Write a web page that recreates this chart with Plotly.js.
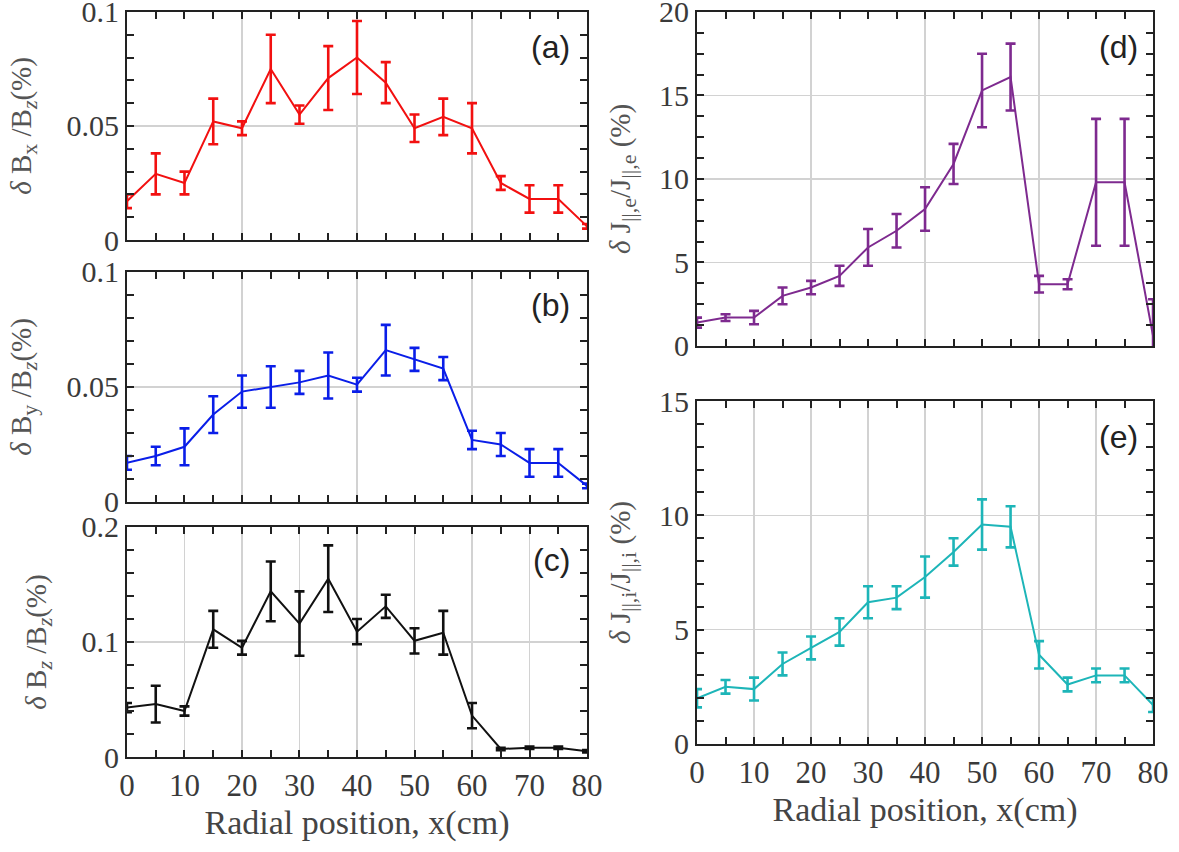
<!DOCTYPE html>
<html>
<head>
<meta charset="utf-8">
<script src="https://cdn.plot.ly/plotly-3.0.1.min.js"></script>
<style>html,body{margin:0;padding:0;background:#fff;}#chart{width:1179px;height:852px;}</style>
</head>
<body>
<div id="chart"></div>
<script>
// Radial positions (cm)
const xPos = [0,5,10,15,20,25,30,35,40,45,50,55,60,65,70,75,80];

// (a) dBx/Bz (%)
const bxVals = [0.017,0.029,0.025,0.052,0.049,0.075,0.055,0.071,0.080,0.069,0.049,0.054,0.049,0.025,0.018,0.018,0.006];
const bxErr  = [0.003,0.009,0.005,0.010,0.003,0.015,0.004,0.014,0.016,0.009,0.006,0.008,0.011,0.003,0.006,0.006,0.001];

// (b) dBy/Bz (%)
const byVals = [0.017,0.020,0.024,0.038,0.048,0.050,0.052,0.055,0.051,0.066,0.062,0.058,0.027,0.025,0.017,0.017,0.007];
const byErr  = [0.003,0.004,0.008,0.008,0.007,0.009,0.005,0.010,0.003,0.011,0.005,0.005,0.004,0.005,0.006,0.006,0.001];

// (c) dBz/Bz (%)
const bzVals = [0.043,0.046,0.040,0.111,0.095,0.144,0.116,0.155,0.109,0.131,0.101,0.108,0.036,0.007,0.008,0.008,0.005];
const bzErr  = [0.004,0.016,0.004,0.016,0.006,0.026,0.028,0.029,0.011,0.010,0.011,0.019,0.011,0.001,0.001,0.001,0.001];

// (d) dJ||,e/J||,e (%)
const jeVals = [1.4,1.7,1.7,3.0,3.5,4.2,5.9,6.9,8.2,10.9,15.3,16.1,3.7,3.7,9.8,9.8,0.6];
const jeErr  = [0.3,0.2,0.4,0.5,0.4,0.6,1.1,1.0,1.3,1.2,2.2,2.0,0.5,0.3,3.8,3.8,2.2];

// (e) dJ||,i/J||,i (%)
const jiVals = [2.0,2.5,2.4,3.5,4.2,4.9,6.2,6.4,7.3,8.4,9.6,9.5,3.9,2.6,3.0,3.0,1.7];
const jiErr  = [0.4,0.3,0.5,0.5,0.5,0.6,0.7,0.5,0.9,0.6,1.1,0.9,0.6,0.3,0.3,0.3,0.3];

const panelLabels = ['(a)','(b)','(c)','(d)','(e)'];
const sb = t => '<sub><span style="font-size:22px">' + t + '</span></sub>';
const yTitles = [
  '<i>δ</i> B' + sb('x') + ' /B' + sb('<i>z</i>') + '(%)',
  '<i>δ</i> B' + sb('y') + ' /B' + sb('<i>z</i>') + '(%)',
  '<i>δ</i> B' + sb('<i>z</i>') + ' /B' + sb('<i>z</i>') + '(%)',
  '<i>δ</i> J' + sb('||,e') + '/J' + sb('||,e') + ' (%)',
  '<i>δ</i> J' + sb('||,i') + '/J' + sb('||,i') + ' (%)'
];
const xTitle = 'Radial position, x(cm)';

const colors = ['#f21010','#0a1ee8','#111111','#7e2a8f','#1db5b8'];
const series = [[bxVals,bxErr],[byVals,byErr],[bzVals,bzErr],[jeVals,jeErr],[jiVals,jiErr]];

const serif = 'Liberation Serif, Times New Roman, serif';
const axCol = '#222';
const gridCol = '#d2d2d2';

const traces = series.map((s,i)=>({
  type:'scatter', mode:'lines',
  x:xPos, y:s[0],
  xaxis: i===0?'x':'x'+(i+1), yaxis: i===0?'y':'y'+(i+1),
  line:{color:colors[i], width:2},
  error_y:{type:'data', array:s[1], visible:true, color:colors[i], thickness:2.6, width:5},
  showlegend:false, hoverinfo:'x+y'
}));

const leftX = [0.1077,0.4979], rightX = [0.5912,0.978];
const yDomains = [[0.7183,0.986],[0.4108,0.6808],[0.1115,0.3815],[0.5939,0.986],[0.1268,0.5293]];
const yRanges = [[0,0.1],[0,0.1],[0,0.2],[0,20],[0,15]];
const yDticks = [0.05,0.05,0.1,5,5];
const yMinor = [0.01,0.01,0.02,1.25,1];
const showX = [false,false,true,false,true];
const xDtick = [20,20,10,20,10];
const labelPos = [[0.967,0.848],[0.967,0.857],[0.967,0.857],[0.971,0.896],[0.971,0.895]];
const yStandoff = [26,26,26,20,20];

function xAxis(i){
  return {
    domain: i<3?leftX:rightX, anchor: i===0?'y':'y'+(i+1),
    range:[0,80], tick0:0, dtick:xDtick[i],
    showticklabels: showX[i],
    tickfont:{family:serif,size:31,color:'#3a3a3a'},
    ticklabeloverflow:'allow',
    ticks:'inside', ticklen:7, tickwidth:2, tickcolor:axCol,
    showline:true, linewidth:2, linecolor:axCol, mirror:'allticks',
    showgrid:true, gridcolor:gridCol, gridwidth:1.5, zeroline:false,
    minor:{dtick:5, tick0:0, ticks:'inside', ticklen:7, tickwidth:2, tickcolor:axCol, showgrid:false},
    title: showX[i] ? {text:xTitle, font:{family:serif,size:34,color:'#444'}, standoff:8} : {text:''},
    fixedrange:true
  };
}
function yAxis(i){
  return {
    domain: yDomains[i], anchor: i===0?'x':'x'+(i+1),
    range:yRanges[i], tick0:0, dtick:yDticks[i],
    tickfont:{family:serif,size:30,color:'#3a3a3a'},
    ticklabeloverflow:'allow',
    ticks:'inside', ticklen:7, tickwidth:2, tickcolor:axCol,
    showline:true, linewidth:2, linecolor:axCol, mirror:'allticks',
    showgrid:true, gridcolor:gridCol, gridwidth:1.5, zeroline:false,
    minor:{dtick:yMinor[i], tick0:0, ticks:'inside', ticklen:7, tickwidth:2, tickcolor:axCol, showgrid:false},
    title:{text:yTitles[i], font:{family:serif,size:29,color:'#555'}, standoff:yStandoff[i]},
    fixedrange:true
  };
}

const layout = {
  width:1179, height:852,
  margin:{l:0,r:0,t:0,b:0},
  paper_bgcolor:'#fff', plot_bgcolor:'#fff',
  showlegend:false,
  annotations: panelLabels.map((t,i)=>({
    text:t, xref:(i===0?'x':'x'+(i+1))+' domain', yref:(i===0?'y':'y'+(i+1))+' domain',
    x:labelPos[i][0], y:labelPos[i][1], xanchor:'right', yanchor:'middle', showarrow:false,
    font:{family:'Liberation Sans, Arial, sans-serif', size:32, color:'#222'}
  }))
};
for(let i=0;i<5;i++){
  layout[i===0?'xaxis':'xaxis'+(i+1)] = xAxis(i);
  layout[i===0?'yaxis':'yaxis'+(i+1)] = yAxis(i);
}

Plotly.newPlot('chart', traces, layout, {displayModeBar:false, staticPlot:true});
</script>
</body>
</html>
